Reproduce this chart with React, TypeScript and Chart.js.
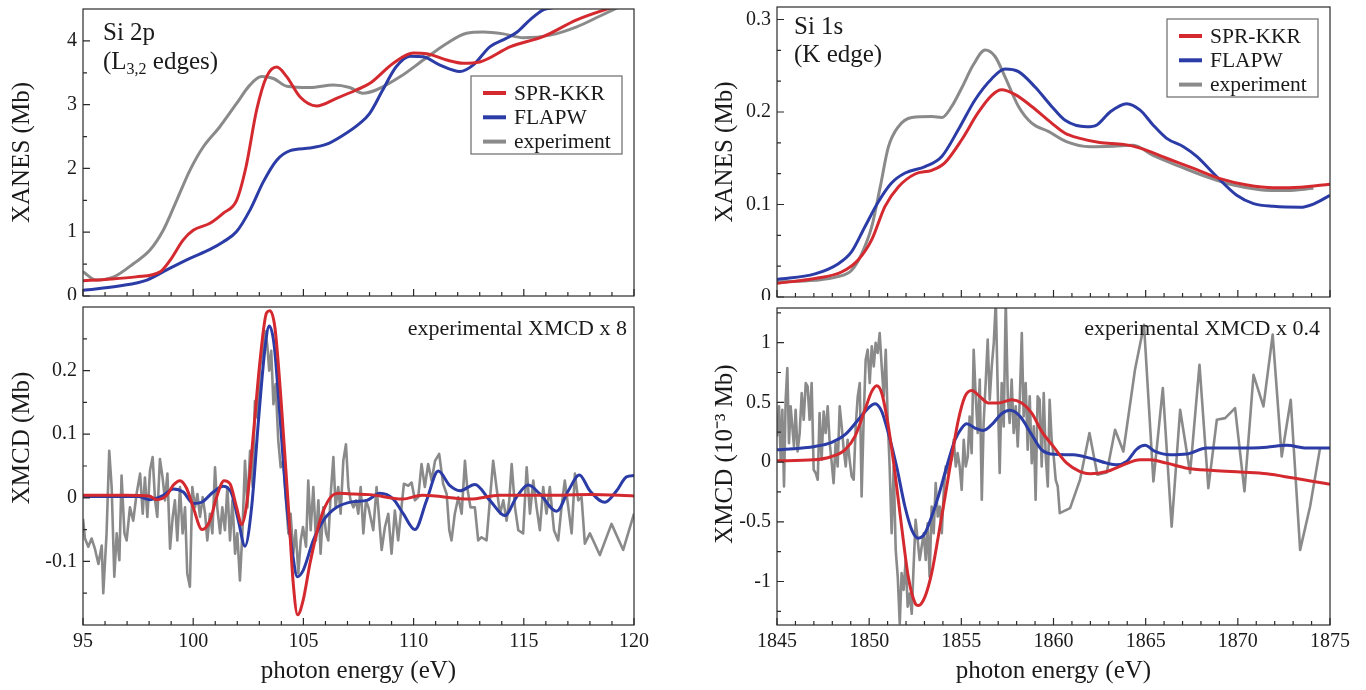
import React, { useEffect, useRef } from "react";
import { Chart, registerables } from "chart.js";

Chart.register(...registerables);

const FONT = '"Liberation Serif", "Times New Roman", serif';
const RED = "#d42a2f";
const BLUE = "#2b3ca6";
const GRAY = "#8a8a8a";
const INK = "#1a1a1a";

// ---------------- Si 2p XANES (top left) ----------------
const L_KKR_E = [95, 96, 97.4, 98.5, 98.95, 99.55, 100.0, 100.76, 101.37, 101.97, 102.4, 102.88, 103.33, 103.79, 104.24, 104.85, 105.6, 106.5, 107.4, 108.0, 109.08, 109.99, 110.6, 111.5, 112.26, 113.0, 114.4, 115.9, 117.4, 119.3];
const L_KKR_V = [0.24, 0.26, 0.30, 0.38, 0.56, 0.88, 1.03, 1.14, 1.30, 1.50, 2.03, 2.92, 3.44, 3.59, 3.44, 3.12, 2.98, 3.10, 3.23, 3.33, 3.65, 3.81, 3.80, 3.70, 3.65, 3.67, 3.91, 4.07, 4.33, 4.56];
const L_FLAPW_E = [95, 96.7, 97.9, 98.8, 99.85, 100.76, 101.37, 101.97, 102.58, 103.18, 103.79, 104.4, 105.3, 106.06, 106.8, 107.57, 108.0, 108.6, 109.2, 109.84, 110.44, 111.2, 112.1, 112.7, 113.47, 114.2, 114.7, 115.28, 115.9, 116.5];
const L_FLAPW_V = [0.09, 0.16, 0.25, 0.41, 0.59, 0.73, 0.85, 1.01, 1.35, 1.79, 2.13, 2.28, 2.32, 2.38, 2.52, 2.71, 2.86, 3.23, 3.59, 3.76, 3.75, 3.62, 3.52, 3.62, 3.91, 4.04, 4.14, 4.33, 4.49, 4.53];
const L_EXP_E = [95, 95.6, 96.4, 97.3, 98.04, 98.64, 99.25, 99.85, 100.46, 101.2, 101.97, 102.58, 103.1, 103.64, 104.24, 105.3, 106.36, 107.1, 107.7, 108.3, 109.4, 110.44, 111.5, 112.4, 113.16, 114.07, 114.98, 116.2, 117.4, 118.46, 119.3];
const L_EXP_V = [0.38, 0.25, 0.30, 0.51, 0.72, 1.03, 1.50, 1.97, 2.34, 2.65, 3.02, 3.31, 3.44, 3.41, 3.29, 3.27, 3.31, 3.27, 3.18, 3.23, 3.44, 3.70, 3.96, 4.12, 4.14, 4.11, 4.05, 4.09, 4.22, 4.39, 4.53];

// ---------------- Si 2p XMCD (bottom left) ----------------
const LM_KKR_E = [95, 97, 98.0, 98.34, 98.8, 99.1, 99.4, 99.7, 100.0, 100.4, 100.76, 101.06, 101.4, 101.67, 101.97, 102.2, 102.43, 102.73, 103.03, 103.33, 103.48, 103.71, 104.01, 104.32, 104.54, 104.74, 104.99, 105.3, 105.75, 106.21, 106.66, 107.27, 108.02, 109.5, 110.4, 112.55, 113.9, 116, 118, 120];
const LM_KKR_V = [0.004, 0.004, 0.003, -0.003, 0.004, 0.02, 0.027, 0.015, -0.015, -0.05, -0.036, 0.001, 0.027, 0.022, -0.015, -0.042, -0.009, 0.1, 0.215, 0.291, 0.294, 0.267, 0.142, -0.015, -0.135, -0.184, -0.161, -0.103, -0.036, 0.0, 0.007, 0.006, 0.005, -0.002, 0.004, -0.002, 0.004, 0.004, 0.005, 0.003];
const LM_FLAPW_E = [95, 97.5, 98.04, 98.64, 99.1, 99.55, 100.0, 100.38, 100.91, 101.37, 101.75, 102.05, 102.35, 102.65, 102.96, 103.26, 103.45, 103.67, 103.94, 104.24, 104.51, 104.72, 104.99, 105.45, 105.9, 106.51, 107.27, 107.87, 108.47, 109.08, 109.53, 110.06, 110.59, 111.12, 111.65, 112.1, 112.78, 113.46, 114.14, 114.67, 115.2, 115.73, 116.49, 117.02, 117.52, 118.0, 118.68, 119.21, 119.66, 120];
const LM_FLAPW_V = [0.002, 0.002, -0.003, 0.004, 0.014, 0.009, -0.009, -0.007, 0.009, 0.018, 0.006, -0.036, -0.076, -0.015, 0.121, 0.236, 0.27, 0.241, 0.126, -0.009, -0.088, -0.124, -0.114, -0.067, -0.036, -0.015, -0.006, -0.004, 0.007, -0.002, -0.025, -0.05, -0.004, 0.042, 0.019, 0.011, 0.021, -0.004, -0.028, 0.001, 0.02, 0.006, -0.021, 0.011, 0.036, 0.011, -0.007, 0.011, 0.033, 0.035];
const LM_EXP_E = [95.0, 95.09, 95.24, 95.39, 95.54, 95.70, 95.85, 95.92, 96.07, 96.19, 96.30, 96.42, 96.53, 96.65, 96.75, 96.88, 96.98, 97.13, 97.28, 97.43, 97.59, 97.71, 97.81, 97.92, 98.04, 98.16, 98.27, 98.37, 98.49, 98.61, 98.72, 98.83, 98.95, 99.07, 99.17, 99.28, 99.40, 99.52, 99.63, 99.73, 99.85, 99.96, 100.08, 100.19, 100.31, 100.43, 100.54, 100.64, 100.76, 100.87, 100.99, 101.09, 101.22, 101.32, 101.44, 101.55, 101.67, 101.78, 101.90, 102.00, 102.12, 102.23, 102.35, 102.46, 102.58, 102.70, 102.80, 102.91, 103.03, 103.15, 103.26, 103.36, 103.45, 103.54, 103.64, 103.74, 103.86, 103.97, 104.09, 104.21, 104.32, 104.42, 104.54, 104.65, 104.77, 104.88, 104.98, 105.12, 105.22, 105.33, 105.45, 105.57, 105.68, 105.78, 105.90, 106.03, 106.13, 106.24, 106.36, 106.46, 106.58, 106.69, 106.81, 106.93, 107.04, 107.14, 107.27, 107.39, 107.49, 107.60, 107.72, 107.84, 107.95,
  108.17, 108.32, 108.55, 108.70, 108.85, 109.00, 109.15, 109.30, 109.45, 109.56, 109.76, 109.91, 110.06, 110.21, 110.36, 110.51, 110.66, 110.82, 110.97, 111.16, 111.34, 111.50, 111.62, 111.72, 111.87, 112.03, 112.18, 112.33, 112.43, 112.58, 112.78, 112.93, 113.08, 113.31, 113.46, 113.61, 113.76, 113.92, 114.07, 114.22, 114.34, 114.45, 114.60, 114.75, 114.97, 115.13, 115.28, 115.43, 115.58, 115.73, 115.88, 116.03, 116.18, 116.37, 116.56, 116.71, 116.86, 117.02, 117.17, 117.32, 117.47, 117.62, 117.77, 118.00, 118.45, 118.98, 119.51, 120.0];
const LM_EXP_V = [-0.033, -0.064, -0.077, -0.064, -0.080, -0.104, -0.075, -0.150, -0.056, 0.074, 0.017, -0.124, -0.056, -0.098, 0.035, -0.056, -0.067, -0.015, -0.036, 0.006, 0.038, -0.025, 0.032, -0.030, 0.043, 0.064, -0.004, -0.030, 0.061, 0.032, -0.004, 0.038, -0.080, -0.030, -0.004, -0.067, 0.017, -0.056, -0.015, -0.119, -0.140, 0.017, -0.015, 0.006, -0.030, 0.001, -0.025, -0.067, -0.025, -0.056, 0.048, -0.015, -0.056, -0.015, -0.051, 0.017, -0.067, -0.004, -0.088, -0.056, -0.130, -0.056, 0.058, -0.015, 0.074, 0.017, 0.152, 0.126, 0.205, 0.231, 0.262, 0.241, 0.200, 0.231, 0.147, 0.179, 0.090, 0.048, 0.058, -0.004, -0.056, -0.025, -0.088, -0.051, -0.119, -0.067, -0.046, -0.077, 0.027, -0.051, 0.017, -0.067, -0.004, -0.088, -0.015, -0.056, -0.067, 0.006, 0.064, -0.015, 0.017, -0.025, 0.058, 0.084, 0.017, -0.004, -0.015, -0.004, -0.025, 0.017, -0.056, -0.004, -0.015,
  -0.051, 0.017, -0.082, -0.046, -0.025, -0.088, -0.020, -0.067, -0.015, 0.022, 0.019, 0.024, -0.004, 0.001, 0.053, 0.017, 0.053, 0.027, 0.058, 0.069, 0.022, 0.006, -0.051, -0.067, -0.025, 0.001, -0.025, 0.058, 0.017, -0.015, -0.015, -0.067, -0.062, -0.067, -0.004, 0.058, 0.017, -0.025, -0.004, -0.036, -0.004, 0.053, -0.015, -0.051, -0.056, 0.048, -0.025, 0.027, -0.015, -0.051, 0.017, -0.025, 0.017, -0.051, -0.067, -0.015, 0.027, -0.015, -0.056, 0.038, -0.004, 0.001, -0.072, -0.056, -0.090, -0.041, -0.082, -0.025];

// ---------------- Si 1s XANES (top right) ----------------
const K_KKR_E = [1845, 1847.06, 1848.5, 1849.4, 1850.14, 1850.86, 1851.58, 1852.49, 1853.4, 1854.1, 1855.02, 1855.9, 1856.65, 1857.19, 1857.9, 1858.82, 1859.9, 1860.63, 1861.44, 1862.5, 1863.8, 1864.7, 1866.14, 1867.6, 1869.04, 1870.5, 1871.93, 1873.38, 1875];
const K_KKR_V = [0.0148, 0.02, 0.027, 0.04, 0.062, 0.098, 0.119, 0.133, 0.137, 0.145, 0.17, 0.199, 0.218, 0.224, 0.219, 0.206, 0.188, 0.177, 0.1715, 0.167, 0.165, 0.161, 0.15, 0.139, 0.128, 0.121, 0.118, 0.1186, 0.122];
const K_FLAPW_E = [1845, 1847.06, 1848.33, 1849.05, 1849.77, 1850.5, 1851.2, 1851.95, 1853.03, 1853.94, 1854.84, 1855.74, 1856.65, 1857.37, 1858.1, 1859.0, 1859.9, 1860.63, 1861.8, 1862.35, 1863.07, 1863.97, 1864.7, 1865.4, 1866.14, 1867.05, 1867.77, 1868.86, 1869.94, 1870.85, 1871.93, 1873.38, 1874.1, 1875];
const K_FLAPW_V = [0.019, 0.025, 0.036, 0.049, 0.076, 0.103, 0.123, 0.134, 0.141, 0.152, 0.181, 0.213, 0.236, 0.2465, 0.2436, 0.227, 0.206, 0.191, 0.184, 0.186, 0.2, 0.209, 0.202, 0.186, 0.1715, 0.1625, 0.152, 0.13, 0.11, 0.101, 0.098, 0.097, 0.1005, 0.11];
const K_EXP_E = [1845, 1847.06, 1848.3, 1849.05, 1849.6, 1850.14, 1850.6, 1851.04, 1851.58, 1852.31, 1853.4, 1853.94, 1854.48, 1855.02, 1855.65, 1856.29, 1856.83, 1857.37, 1858.1, 1858.82, 1859.72, 1860.7, 1861.98, 1863.25, 1864.33, 1865.4, 1866.87, 1868.3, 1869.76, 1871.2, 1872.66, 1874.1];
const K_EXP_V = [0.0166, 0.018, 0.022, 0.029, 0.047, 0.076, 0.119, 0.162, 0.184, 0.194, 0.195, 0.194, 0.206, 0.226, 0.251, 0.267, 0.26, 0.238, 0.206, 0.188, 0.179, 0.168, 0.1625, 0.163, 0.164, 0.153, 0.141, 0.13, 0.121, 0.116, 0.115, 0.1175];

// ---------------- Si 1s XMCD (bottom right) ----------------
const KM_KKR_E = [1845, 1847, 1847.97, 1848.69, 1849.23, 1849.77, 1850.14, 1850.41, 1850.68, 1851.04, 1851.4, 1851.76, 1852.12, 1852.49, 1852.67, 1853.03, 1853.39, 1853.75, 1854.12, 1854.48, 1854.84, 1855.2, 1855.56, 1856.0, 1856.47, 1857.01, 1857.73, 1858.28, 1858.82, 1859.36, 1859.99, 1860.72, 1861.44, 1861.98, 1862.89, 1863.79, 1864.7, 1865.24, 1866.14, 1867.23, 1868.68, 1870.12, 1871.57, 1873.02, 1874.1, 1875];
const KM_KKR_V = [0.011, 0.019, 0.047, 0.103, 0.215, 0.438, 0.592, 0.64, 0.578, 0.299, -0.092, -0.54, -0.959, -1.18, -1.2, -1.126, -0.93, -0.623, -0.288, 0.047, 0.354, 0.55, 0.6, 0.55, 0.494, 0.494, 0.522, 0.494, 0.41, 0.257, 0.131, -0.009, -0.079, -0.098, -0.079, -0.023, 0.019, 0.019, -0.009, -0.051, -0.07, -0.084, -0.098, -0.134, -0.162, -0.185];
const KM_FLAPW_E = [1845, 1847.06, 1847.97, 1848.69, 1849.41, 1849.95, 1850.32, 1850.68, 1851.04, 1851.49, 1851.94, 1852.31, 1852.67, 1853.03, 1853.39, 1853.75, 1854.21, 1854.66, 1855.02, 1855.29, 1855.74, 1856.2, 1856.65, 1857.19, 1857.64, 1858.18, 1858.82, 1859.36, 1860.08, 1861.08, 1861.98, 1862.89, 1863.43, 1863.97, 1864.52, 1864.97, 1865.51, 1866.32, 1867.23, 1868.31, 1870.12, 1871.57, 1872.65, 1873.74, 1875];
const KM_FLAPW_V = [0.103, 0.131, 0.165, 0.229, 0.355, 0.452, 0.489, 0.425, 0.243, -0.037, -0.372, -0.567, -0.637, -0.595, -0.456, -0.288, -0.037, 0.187, 0.285, 0.321, 0.285, 0.265, 0.313, 0.405, 0.433, 0.383, 0.229, 0.103, 0.065, 0.061, 0.033, -0.009, -0.023, 0.005, 0.109, 0.14, 0.089, 0.061, 0.067, 0.117, 0.117, 0.125, 0.14, 0.117, 0.117];
const KM_EXP_E = [1845.0, 1845.11, 1845.20, 1845.29, 1845.38, 1845.47, 1845.56, 1845.65, 1845.74, 1845.83, 1845.92, 1846.01, 1846.12, 1846.23, 1846.34, 1846.45, 1846.56, 1846.66, 1846.77, 1846.88, 1846.99, 1847.10, 1847.21, 1847.31, 1847.42, 1847.53, 1847.64, 1847.75, 1847.86, 1847.97, 1848.07, 1848.18, 1848.29, 1848.40, 1848.51, 1848.62, 1848.73, 1848.83, 1848.94, 1849.05, 1849.16, 1849.27, 1849.38, 1849.49, 1849.59, 1849.70, 1849.81, 1849.92, 1850.03, 1850.14, 1850.25, 1850.35, 1850.46, 1850.57, 1850.68, 1850.79, 1850.90, 1851.00, 1851.11, 1851.22, 1851.33, 1851.44, 1851.55, 1851.66, 1851.76, 1851.87, 1851.98, 1852.09, 1852.20, 1852.31, 1852.41, 1852.52, 1852.63, 1852.74, 1852.85, 1852.96, 1853.07, 1853.17, 1853.28, 1853.39, 1853.50, 1853.61, 1853.72, 1853.83, 1853.94, 1854.04, 1854.15, 1854.26, 1854.37, 1854.48, 1854.59, 1854.70, 1854.80, 1854.91, 1855.02, 1855.13, 1855.24, 1855.35, 1855.45, 1855.56, 1855.67, 1855.78, 1855.89, 1856.00, 1856.11, 1856.21, 1856.32, 1856.43, 1856.54, 1856.65, 1856.76, 1856.87, 1856.97, 1857.08, 1857.19, 1857.30, 1857.41, 1857.52, 1857.62, 1857.73, 1857.84, 1857.95, 1858.06, 1858.17, 1858.28, 1858.38, 1858.49, 1858.60, 1858.71, 1858.82, 1858.93, 1859.03, 1859.14, 1859.25, 1859.36, 1859.47, 1859.58, 1859.69, 1859.79, 1859.90, 1860.01, 1860.12, 1860.23, 1860.34,
  1860.90, 1861.44, 1861.95, 1862.38, 1862.89, 1863.34, 1863.79, 1864.42, 1864.91, 1865.42, 1865.93, 1866.41, 1866.87, 1867.41, 1867.92, 1868.40, 1868.86, 1869.31, 1869.85, 1870.36, 1870.85, 1871.39, 1871.89, 1872.38, 1872.87, 1873.38, 1873.92, 1874.46];
const KM_EXP_V = [0.215, 0.466, 0.019, 0.438, -0.204, 0.522, 0.787, 0.159, 0.466, 0.299, 0.131, 0.438, 0.089, 0.243, 0.578, 0.354, 0.662, 0.634, 0.354, 0.662, -0.064, -0.092, -0.148, 0.410, 0.019, 0.424, 0.243, 0.466, 0.159, -0.009, -0.176, 0.159, -0.037, 0.466, 0.299, 0.103, -0.037, 0.187, 0.019, -0.120, -0.148, 0.299, 0.550, 0.662, -0.288, 0.354, 0.857, 0.941, 0.662, 0.970, 0.801, 0.998, 0.913, 1.080, 0.801, 0.550, 0.941, 0.382, -0.037, -0.596, -0.037, -0.735, -0.959, -1.350, -0.930, -1.070, -0.820, -1.210, -1.100, -1.270, -0.875, -0.484, -0.651, -0.820, -0.707, -0.596, -0.820, -0.512, -0.959, -0.372, -0.596, -0.176, -0.456, -0.372, -0.596, -0.260, -0.037, -0.092, 0.047, 0.019, 0.187, -0.037, 0.075, -0.037, -0.232, 0.187, -0.037, 0.047, 0.382, 0.075, 0.941, 0.550, 0.243, 0.690, -0.316, 0.327, 0.662, 1.025, 0.522, 0.801, 0.998, 1.350, 0.634, -0.092, 0.662, 0.299, 1.350, 0.550, 0.327, 0.690, 0.243, 0.466, 0.131, 0.522, 1.080, 0.382, 0.662, 0.103, 0.550, -0.009, 0.299, -0.316, 0.550, 0.522, -0.037, 0.578, 0.047, -0.204, 0.522, 0.187, 0.047, -0.148, -0.204, -0.428,
  -0.386, -0.148, 0.243, -0.106, -0.087, 0.271, 0.089, 0.773, 1.15, -0.162, 0.62, -0.54, 0.438, -0.092, 0.815, -0.218, 0.354, 0.368, 0.452, -0.246, 0.73, 0.466, 1.067, 0.047, 0.522, -0.735, -0.372, 0.117];

// ---------------- ticks & labels ----------------
const L_X_TICKS = [95, 100, 105, 110, 115, 120];
const L_X_MINOR = [96, 97, 98, 99, 101, 102, 103, 104, 106, 107, 108, 109, 111, 112, 113, 114, 116, 117, 118, 119];
const K_X_TICKS = [1845, 1850, 1855, 1860, 1865, 1870, 1875];
const K_X_MINOR = [1846, 1847, 1848, 1849, 1851, 1852, 1853, 1854, 1856, 1857, 1858, 1859, 1861, 1862, 1863, 1864, 1866, 1867, 1868, 1869, 1871, 1872, 1873, 1874];
const TL_Y_TICKS = [0, 1, 2, 3, 4];
const TL_Y_MINOR = [0.5, 1.5, 2.5, 3.5];
const BL_Y_TICKS = [-0.1, 0, 0.1, 0.2];
const BL_Y_MINOR = [-0.15, -0.05, 0.05, 0.15, 0.25];
const TR_Y_TICKS = [0, 0.1, 0.2, 0.3];
const TR_Y_MINOR = [0.0333, 0.0667, 0.1333, 0.1667, 0.2333, 0.2667];
const BR_Y_TICKS = [-1, -0.5, 0, 0.5, 1];
const BR_Y_MINOR = [-1.25, -0.75, -0.25, 0.25, 0.75, 1.25];
const SERIES_LABELS = ["SPR-KKR", "FLAPW", "experiment"];
const X_TITLE = "photon energy (eV)";

const zip = (xs: number[], ys: number[]) => xs.map((x, i) => ({ x, y: ys[i] }));

type Part = { t: string; sub?: boolean };
type Note = { anchor: "left" | "right"; dx: number; dy: number; size: number; parts: Part[] };
type Spec = {
  key: string;
  left: number; top: number; w: number; h: number;
  pad: { left: number; top: number; right: number; bottom: number };
  yw: number; xh: number;
  xmin: number; xmax: number; ymin: number; ymax: number;
  xTicks: number[]; xMinor: number[]; yTicks: number[]; yMinor: number[];
  xLabels: boolean; yTitle: string; yTitlePad: number;
  legend?: { dxRight: number; dyTop: number; w: number; h: number };
  notes: Note[];
  series: { label: string; data: { x: number; y: number }[]; color: string; smooth: boolean; width: number }[];
};

const makeFrame = (spec: Spec) => ({
  id: "frame",
  afterDatasetsDraw(chart: any) {
    const { ctx, chartArea: a } = chart;
    const xs = chart.scales.x, ys = chart.scales.y;
    ctx.save();
    ctx.strokeStyle = "#2a2a2a";
    ctx.lineWidth = 1.2;
    ctx.beginPath();
    const vx = (vals: number[], len: number) => vals.forEach((v) => {
      const p = xs.getPixelForValue(v);
      ctx.moveTo(p, a.bottom); ctx.lineTo(p, a.bottom - len);
    });
    const vy = (vals: number[], len: number) => vals.forEach((v) => {
      const p = ys.getPixelForValue(v);
      ctx.moveTo(a.left, p); ctx.lineTo(a.left + len, p);
    });
    vx(spec.xTicks, 7); vx(spec.xMinor, 4);
    vy(spec.yTicks, 7); vy(spec.yMinor, 4);
    ctx.stroke();
    ctx.strokeRect(a.left, a.top, a.right - a.left, a.bottom - a.top);
    ctx.restore();
  },
});

const makeLegend = (spec: Spec) => ({
  id: "boxLegend",
  afterDatasetsDraw(chart: any) {
    const L = spec.legend;
    if (!L) return;
    const { ctx, chartArea: a } = chart;
    const x0 = a.right - L.dxRight - L.w, y0 = a.top + L.dyTop;
    ctx.save();
    ctx.fillStyle = "#fff";
    ctx.fillRect(x0, y0, L.w, L.h);
    ctx.strokeStyle = "#6a6a6a";
    ctx.lineWidth = 1.2;
    ctx.strokeRect(x0, y0, L.w, L.h);
    ctx.font = `21.5px ${FONT}`;
    ctx.textBaseline = "middle";
    ctx.textAlign = "left";
    chart.data.datasets.forEach((ds: any, i: number) => {
      const cy = y0 + 17 + i * 24.3;
      ctx.strokeStyle = ds.borderColor;
      ctx.lineWidth = 4;
      ctx.beginPath();
      ctx.moveTo(x0 + 12, cy); ctx.lineTo(x0 + 35, cy);
      ctx.stroke();
      ctx.fillStyle = INK;
      ctx.fillText(ds.label, x0 + 43, cy + 1);
    });
    ctx.restore();
  },
});

const makeNotes = (spec: Spec) => ({
  id: "notes",
  afterDatasetsDraw(chart: any) {
    const { ctx, chartArea: a } = chart;
    ctx.save();
    ctx.fillStyle = INK;
    ctx.textBaseline = "middle";
    ctx.textAlign = "left";
    spec.notes.forEach((n) => {
      const segs = n.parts.map((p) => {
        const size = p.sub ? Math.round(n.size * 0.62) : n.size;
        const font = `${size}px ${FONT}`;
        ctx.font = font;
        return { ...p, font, w: ctx.measureText(p.t).width };
      });
      const total = segs.reduce((s, g) => s + g.w, 0);
      let x = n.anchor === "right" ? a.right - n.dx - total : a.left + n.dx;
      const y = a.top + n.dy;
      segs.forEach((g) => {
        ctx.font = g.font;
        ctx.fillText(g.t, x, y + (g.sub ? n.size * 0.3 : 0));
        x += g.w;
      });
    });
    ctx.restore();
  },
});

const tickFont = { family: FONT, size: 20 };
const titleFont = { family: FONT, size: 25 };

function buildConfig(spec: Spec): any {
  return {
    type: "line",
    data: {
      datasets: spec.series.map((s) => ({
        label: s.label,
        data: s.data,
        borderColor: s.color,
        backgroundColor: s.color,
        borderWidth: s.width,
        pointRadius: 0,
        pointHoverRadius: 0,
        fill: false,
        tension: s.smooth ? 0.4 : 0,
        cubicInterpolationMode: s.smooth ? "monotone" : "default",
        borderJoinStyle: "round",
      })),
    },
    options: {
      responsive: false,
      animation: false,
      devicePixelRatio: 1,
      events: [],
      layout: { padding: spec.pad },
      plugins: { legend: { display: false }, tooltip: { enabled: false } },
      scales: {
        x: {
          type: "linear",
          min: spec.xmin,
          max: spec.xmax,
          afterBuildTicks: (s: any) => { s.ticks = spec.xTicks.map((v) => ({ value: v })); },
          afterFit: (s: any) => {
            s.height = spec.xh;
            s.paddingLeft = 0; s.paddingRight = 0; s.paddingTop = 0; s.paddingBottom = 0;
          },
          grid: { display: false, drawTicks: false },
          border: { display: false },
          ticks: {
            display: spec.xLabels,
            autoSkip: false,
            maxRotation: 0,
            padding: 5,
            font: tickFont,
            color: INK,
            callback: (v: any) => String(v),
          },
          title: spec.xLabels
            ? { display: true, text: X_TITLE, font: titleFont, color: INK, padding: { top: 0, bottom: 4 } }
            : { display: false },
        },
        y: {
          type: "linear",
          min: spec.ymin,
          max: spec.ymax,
          afterBuildTicks: (s: any) => { s.ticks = spec.yTicks.map((v) => ({ value: v })); },
          afterFit: (s: any) => {
            s.width = spec.yw;
            s.paddingLeft = 0; s.paddingRight = 0; s.paddingTop = 0; s.paddingBottom = 0;
          },
          grid: { display: false, drawTicks: false },
          border: { display: false },
          ticks: { padding: 6, font: tickFont, color: INK, callback: (v: any) => String(v) },
          title: { display: true, text: spec.yTitle, font: titleFont, color: INK, padding: { top: spec.yTitlePad, bottom: 0 } },
        },
      },
    },
    plugins: [makeFrame(spec), makeLegend(spec), makeNotes(spec)],
  };
}

const series3 = (a: [number[], number[]], b: [number[], number[]], c: [number[], number[]], smoothExp: boolean) => [
  { label: SERIES_LABELS[0], data: zip(a[0], a[1]), color: RED, smooth: true, width: 3 },
  { label: SERIES_LABELS[1], data: zip(b[0], b[1]), color: BLUE, smooth: true, width: 3 },
  { label: SERIES_LABELS[2], data: zip(c[0], c[1]), color: GRAY, smooth: smoothExp, width: smoothExp ? 3 : 2.6 },
];

const PANELS: Spec[] = [
  {
    key: "tl", left: 0, top: 0, w: 680, h: 300,
    pad: { left: 0, top: 9, right: 46, bottom: 0 }, yw: 83, xh: 4,
    xmin: 95, xmax: 120, ymin: 0, ymax: 4.5,
    xTicks: L_X_TICKS, xMinor: L_X_MINOR, yTicks: TL_Y_TICKS, yMinor: TL_Y_MINOR,
    xLabels: false, yTitle: "XANES (Mb)", yTitlePad: 7,
    legend: { dxRight: 12, dyTop: 67, w: 151, h: 78 },
    notes: [
      { anchor: "left", dx: 20, dy: 24, size: 25, parts: [{ t: "Si 2p" }] },
      { anchor: "left", dx: 20, dy: 53, size: 25, parts: [{ t: "(L" }, { t: "3,2", sub: true }, { t: " edges)" }] },
    ],
    series: series3([L_KKR_E, L_KKR_V], [L_FLAPW_E, L_FLAPW_V], [L_EXP_E, L_EXP_V], true),
  },
  {
    key: "bl", left: 0, top: 300, w: 680, h: 390,
    pad: { left: 0, top: 7, right: 46, bottom: 0 }, yw: 83, xh: 65,
    xmin: 95, xmax: 120, ymin: -0.2, ymax: 0.3,
    xTicks: L_X_TICKS, xMinor: L_X_MINOR, yTicks: BL_Y_TICKS, yMinor: BL_Y_MINOR,
    xLabels: true, yTitle: "         XMCD (Mb)", yTitlePad: 7,
    notes: [{ anchor: "right", dx: 7, dy: 22, size: 22, parts: [{ t: "experimental XMCD x 8" }] }],
    series: series3([LM_KKR_E, LM_KKR_V], [LM_FLAPW_E, LM_FLAPW_V], [LM_EXP_E, LM_EXP_V], false),
  },
  {
    key: "tr", left: 680, top: 0, w: 686, h: 300,
    pad: { left: 0, top: 7, right: 36, bottom: 0 }, yw: 97, xh: 3,
    xmin: 1845, xmax: 1875, ymin: 0, ymax: 0.3135,
    xTicks: K_X_TICKS, xMinor: K_X_MINOR, yTicks: TR_Y_TICKS, yMinor: TR_Y_MINOR,
    xLabels: false, yTitle: "XANES (Mb)", yTitlePad: 30,
    legend: { dxRight: 12, dyTop: 12, w: 151, h: 78 },
    notes: [
      { anchor: "left", dx: 17, dy: 20, size: 25, parts: [{ t: "Si 1s" }] },
      { anchor: "left", dx: 17, dy: 48, size: 25, parts: [{ t: "(K edge)" }] },
    ],
    series: series3([K_KKR_E, K_KKR_V], [K_FLAPW_E, K_FLAPW_V], [K_EXP_E, K_EXP_V], true),
  },
  {
    key: "br", left: 680, top: 300, w: 686, h: 390,
    pad: { left: 0, top: 8, right: 36, bottom: 0 }, yw: 97, xh: 65,
    xmin: 1845, xmax: 1875, ymin: -1.364, ymax: 1.29,
    xTicks: K_X_TICKS, xMinor: K_X_MINOR, yTicks: BR_Y_TICKS, yMinor: BR_Y_MINOR,
    xLabels: true, yTitle: "    XMCD (10\u207B\u00B3 Mb)", yTitlePad: 30,
    notes: [{ anchor: "right", dx: 10, dy: 21, size: 22, parts: [{ t: "experimental XMCD x 0.4" }] }],
    series: series3([KM_KKR_E, KM_KKR_V], [KM_FLAPW_E, KM_FLAPW_V], [KM_EXP_E, KM_EXP_V], false),
  },
];

function Panel({ spec }: { spec: Spec }) {
  const ref = useRef<HTMLCanvasElement>(null);
  useEffect(() => {
    if (!ref.current) return;
    const chart = new Chart(ref.current, buildConfig(spec));
    return () => chart.destroy();
  }, [spec]);
  return (
    <canvas
      ref={ref}
      width={spec.w}
      height={spec.h}
      style={{ position: "absolute", left: spec.left, top: spec.top, width: spec.w, height: spec.h }}
    />
  );
}

export default function App() {
  return (
    <div style={{ position: "fixed", left: 0, top: 0, width: 1366, height: 690, background: "#fff", overflow: "hidden" }}>
      {PANELS.map((p) => (
        <Panel key={p.key} spec={p} />
      ))}
    </div>
  );
}
